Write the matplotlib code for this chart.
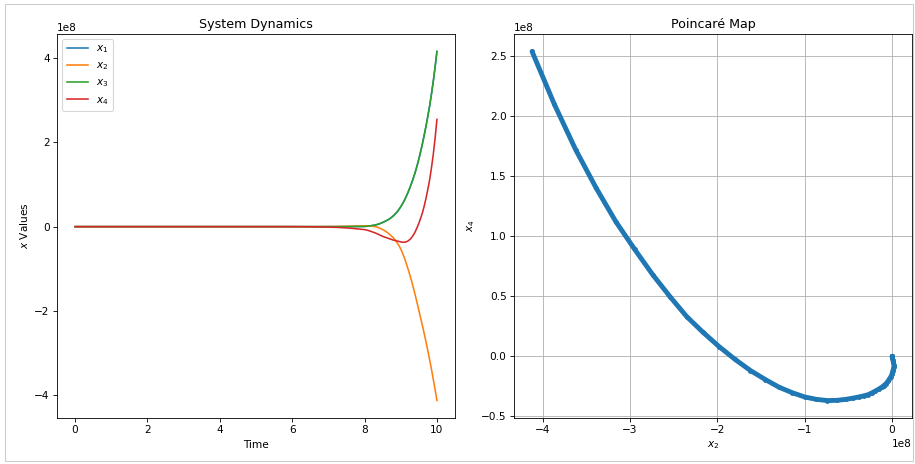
import matplotlib
matplotlib.use("Agg")
import matplotlib.pyplot as plt
from matplotlib.patches import Rectangle
import numpy as np

# time samples
t = [0, 1, 2, 3, 4, 5, 6, 6.5, 7.0, 7.25, 7.5, 7.75,
     8.00, 8.05, 8.10, 8.15, 8.20, 8.25, 8.30, 8.35, 8.40, 8.45,
     8.50, 8.55, 8.60, 8.65, 8.70, 8.75, 8.80, 8.85, 8.90, 8.95,
     9.00, 9.05, 9.10, 9.15, 9.20, 9.25, 9.30, 9.35, 9.40, 9.45,
     9.50, 9.55, 9.60, 9.65, 9.70, 9.75, 9.80, 9.85, 9.90, 9.95, 10.00]

# series values (units of 1e8)
x2 = [0, 0, 0, 0, 0, 0, 0, 0.0, 0.002, 0.004, 0.008, 0.014,
      0.02, 0.021, 0.02, 0.016, 0.01, 0.005, 0.0, -0.013, -0.03, -0.048,
      -0.07, -0.094, -0.12, -0.153, -0.19, -0.228, -0.27, -0.32, -0.38, -0.45,
      -0.53, -0.63, -0.74, -0.865, -1.00, -1.14, -1.29, -1.45, -1.62, -1.80,
      -1.98, -2.165, -2.35, -2.54, -2.74, -2.945, -3.16, -3.385, -3.62, -3.865, -4.12]
x3 = [0, 0, 0, 0, 0, 0, 0, 0.0, 0.0, 0.0, 0.001, 0.003,
      0.005, 0.008, 0.012, 0.018, 0.025, 0.032, 0.04, 0.051, 0.065, 0.081,
      0.10, 0.119, 0.14, 0.164, 0.19, 0.223, 0.26, 0.303, 0.35, 0.408,
      0.47, 0.542, 0.62, 0.712, 0.81, 0.917, 1.03, 1.157, 1.29, 1.44,
      1.60, 1.78, 1.97, 2.175, 2.39, 2.625, 2.87, 3.15, 3.45, 3.79, 4.15]
x1 = [0, 0, 0, 0, 0, 0, 0, 0.0, 0.0, 0.0, 0.001, 0.003,
      0.005, 0.008, 0.012, 0.018, 0.025, 0.032, 0.04, 0.051, 0.065, 0.081,
      0.10, 0.119, 0.14, 0.164, 0.19, 0.223, 0.26, 0.303, 0.35, 0.408,
      0.47, 0.542, 0.62, 0.712, 0.81, 0.917, 1.03, 1.157, 1.29, 1.44,
      1.60, 1.78, 1.97, 2.175, 2.39, 2.625, 2.87, 3.15, 3.45, 3.79, 4.15]
x4 = [0, 0, 0, 0, 0, 0, 0, -0.003, -0.01, -0.018, -0.03, -0.048,
      -0.07, -0.08, -0.09, -0.105, -0.12, -0.135, -0.15, -0.17, -0.19, -0.21,
      -0.23, -0.245, -0.26, -0.275, -0.29, -0.305, -0.32, -0.33, -0.34, -0.35,
      -0.36, -0.368, -0.37, -0.36, -0.34, -0.305, -0.26, -0.195, -0.12, -0.025,
      0.08, 0.20, 0.33, 0.495, 0.68, 0.89, 1.12, 1.40, 1.72, 2.10, 2.54]

labels = ["$x_1$", "$x_2$", "$x_3$", "$x_4$"]
scale = 1e8

DPI = 76
fig = plt.figure(figsize=(915 / DPI, 464 / DPI), dpi=DPI)
ax1 = fig.add_axes([0.0623, 0.0991, 0.435, 0.8276])
ax2 = fig.add_axes([0.5617, 0.0991, 0.435, 0.8276])

for vals, lab in zip([x1, x2, x3, x4], labels):
    ax1.plot(t, np.array(vals) * scale, label=lab)
ax1.set_title("System Dynamics")
ax1.set_xlabel("Time")
ax1.set_ylabel("$x$ Values")
ax1.legend(loc="upper left")

ax2.plot(np.array(x2) * scale, np.array(x4) * scale, color="tab:blue",
         lw=4.6, marker="o", ms=4.6, mew=0, solid_capstyle="round",
         solid_joinstyle="round")
ax2.set_title("Poincaré Map")
ax2.set_xlabel("$x_2$")
ax2.set_ylabel("$x_4$")
ax2.grid(True)

fig.patches.append(Rectangle((5 / 915, 3 / 464), 908 / 915, 457 / 464,
                             transform=fig.transFigure, fill=False,
                             edgecolor="#cccccc", lw=1))

fig.savefig("out.png", dpi=DPI)
